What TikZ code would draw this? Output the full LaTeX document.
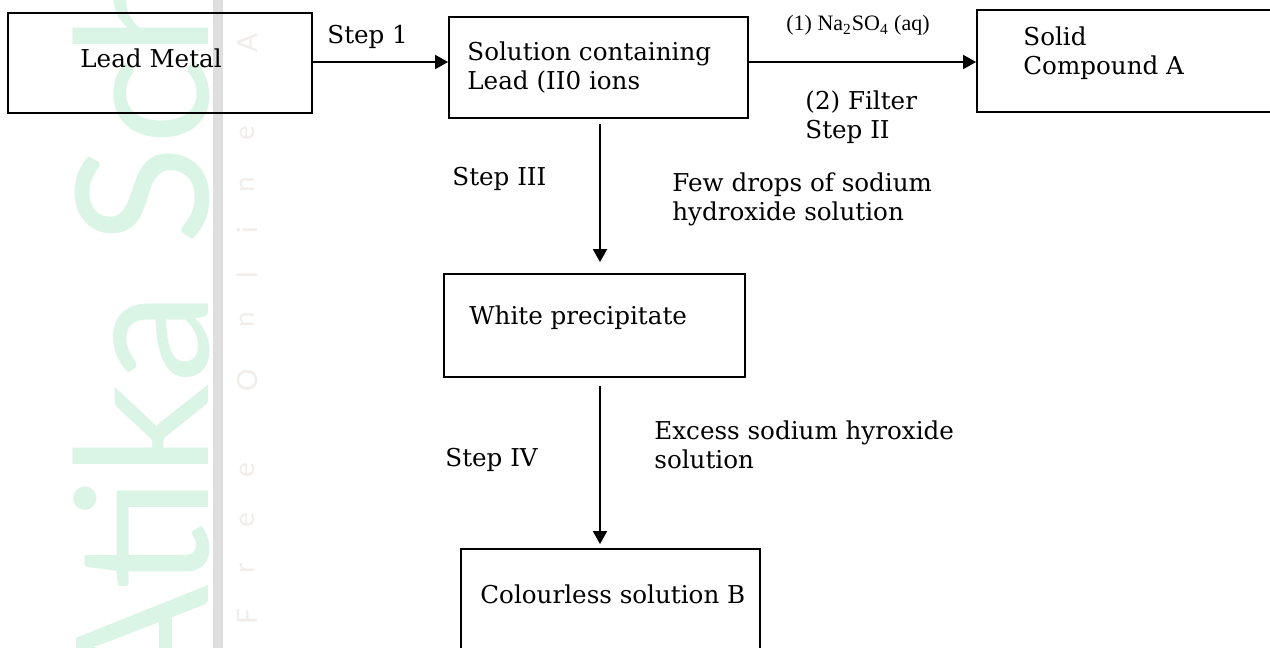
\documentclass[tikz,border=0pt]{standalone}
\usepackage{fontspec}
\setmainfont{DejaVu Serif}
\newfontfamily\timesfont{Liberation Serif}
\newfontfamily\wmfont{Lato}
\usetikzlibrary{arrows.meta}
\definecolor{wmgreen}{RGB}{218,244,230}
\definecolor{wmgray}{RGB}{222,222,222}
\definecolor{wmfaint}{RGB}{240,237,234}
\begin{document}
\begin{tikzpicture}[x=0.5pt,y=-0.5pt,
    box/.style 2 args={draw,line width=.9pt,minimum width=#1*0.5pt,minimum height=#2*0.5pt,inner sep=0pt},
    txt/.style={anchor=base west,inner sep=0pt,align=left,font=\fontsize{12.3}{14.5}\selectfont},
    arr/.style={line width=.9pt,-{Triangle[length=6.5pt,width=7pt]}}]
    \clip (0,0) rectangle (1270,648);
    \fill[white] (0,0) rectangle (1270,648);
    \node[wmgreen,rotate=90,anchor=base west,inner sep=0pt,font=\wmfont\fontsize{92}{92}\selectfont] (wm) at (208,710) {Atika School};
    \fill[wmgray] (213,0) rectangle (223,648);
    \foreach \c/\y in {F/617,r/568,e/520,e/470,O/380,n/320,l/275,i/230,n/185,e/133,A/43}
        \node[wmfaint,rotate=90,font=\wmfont\fontsize{14}{14}\selectfont] (f\y) at (247,\y) {\c};
    \node[box={304}{100}] (lead) at (160,63) {};
    \node[box={299}{101}] (sol) at (598.5,67.5) {};
    \node[box={323}{102}] (solid) at (1138.5,61) {};
    \node[box={301}{103}] (ppt) at (594.5,325.5) {};
    \node[box={299}{141}] (colb) at (610.5,619.5) {};
    \coordinate (ay) at (0,62);
    \coordinate (ax) at (600,0);
    \node[txt] (t1) at (80,68) {Lead Metal};
    \node[txt] (s1) at (327,43) {Step 1};
    \node[txt] (t2) at (467,90) {Solution containing\\Lead (II0 ions};
    \node[txt,font=\timesfont\fontsize{11}{13}\selectfont] (na) at (786,31) {(1) Na\textsubscript{2}SO\textsubscript{4} (aq)};
    \node[txt] (t3) at (1023,75) {Solid\\Compound A};
    \node[txt] (s2) at (805,138) {(2) Filter\\Step II};
    \node[txt] (s3) at (452,185) {Step III};
    \node[txt] (r1) at (672,220) {Few drops of sodium\\hydroxide solution};
    \node[txt] (t4) at (469,324) {White precipitate};
    \node[txt] (s4) at (445,466) {Step IV};
    \node[txt] (r2) at (654,468) {Excess sodium hyroxide\\solution};
    \node[txt] (t5) at (480,603) {Colourless solution B};
    \draw[arr] (lead.east |- ay) -- (sol.west |- ay);
    \draw[arr] (sol.east |- ay) -- (solid.west |- ay);
    \draw[arr,shorten <=2.5pt,shorten >=5.5pt] (sol.south -| ax) -- (ppt.north -| ax);
    \draw[arr,shorten <=4pt,shorten >=2pt] (ppt.south -| ax) -- (colb.north -| ax);
\end{tikzpicture}
\end{document}
